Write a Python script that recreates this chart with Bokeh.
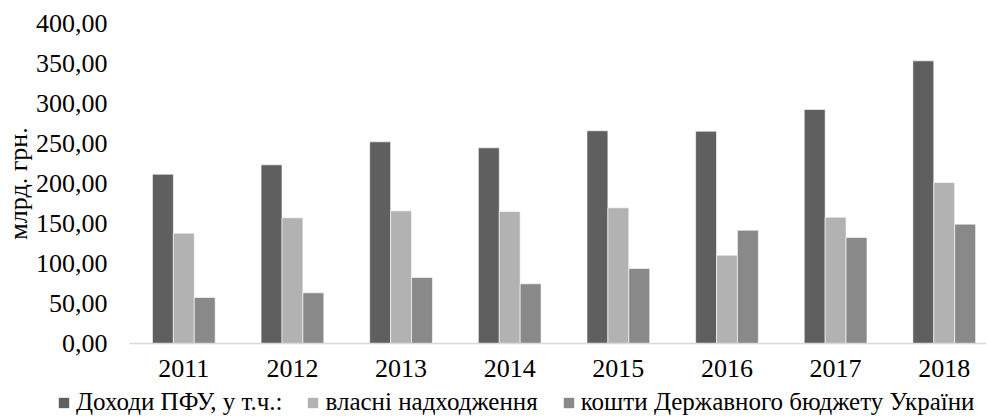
from bokeh.plotting import figure
from bokeh.layouts import column
from bokeh.models import (Range1d, Legend, LegendItem, ColumnDataSource,
                          FixedTicker, CustomJSTickFormatter)
from bokeh.transform import dodge
from bokeh.embed import file_html
from bokeh.resources import INLINE

years = ["2011", "2012", "2013", "2014", "2015", "2016", "2017", "2018"]
total = [211.6, 223.3, 252.1, 244.6, 265.9, 265.4, 292.5, 353.3]
own = [137.9, 157.1, 165.8, 165.0, 169.6, 110.4, 157.9, 201.3]
budget = [57.5, 63.3, 82.5, 74.6, 93.8, 141.6, 132.5, 149.2]
series_names = ["Доходи ПФУ, у т.ч.:", "власні надходження",
                "кошти Державного бюджету України"]
y_ticks = [0, 50, 100, 150, 200, 250, 300, 350, 400]

colors = ["#5f5f5f", "#b2b2b2", "#898989"]
FONT = "Liberation Serif"
FS = "26px"

idx = list(range(len(years)))
src = ColumnDataSource(dict(x=idx, total=total, own=own, budget=budget))

p = figure(frame_width=857, frame_height=320, output_backend="svg", toolbar_location=None,
           x_range=Range1d(-0.5, 7.389), y_range=Range1d(0, 400),
           min_border_left=122, min_border_top=23, min_border_right=0,
           min_border_bottom=50)
p.frame_align = False
p.outline_line_color = None
p.xgrid.visible = False
p.ygrid.visible = False

bw = 0.1925
for field, off, col in zip(["total", "own", "budget"], [-bw, 0, bw], colors):
    p.vbar(x=dodge("x", off, range=p.x_range), top=field, width=bw,
           source=src, fill_color=col, line_color="white", line_width=0.6)

# x axis
p.xaxis.ticker = FixedTicker(ticks=idx)
p.xaxis.major_label_overrides = {i: y for i, y in zip(idx, years)}
p.xaxis.axis_line_color = "#d9d9d9"
p.xaxis.axis_line_width = 1.5
p.xaxis.major_tick_line_color = None
p.xaxis.minor_tick_line_color = None
p.xaxis.major_tick_out = 0
p.xaxis.major_tick_in = 0
p.xaxis.major_label_standoff = 16
p.xaxis.major_label_text_font = FONT
p.xaxis.major_label_text_font_size = FS
p.xaxis.major_label_text_color = "black"

# y axis
p.yaxis.ticker = FixedTicker(ticks=y_ticks)
p.yaxis.formatter = CustomJSTickFormatter(code="return tick.toFixed(2).replace('.', ',');")
p.yaxis.axis_line_color = None
p.yaxis.major_tick_line_color = None
p.yaxis.minor_tick_line_color = None
p.yaxis.major_tick_out = 0
p.yaxis.major_tick_in = 0
p.yaxis.major_label_standoff = 22
p.yaxis.major_label_text_font = FONT
p.yaxis.major_label_text_font_size = FS
p.yaxis.major_label_text_color = "black"
p.yaxis.axis_label = "млрд. грн."
p.yaxis.axis_label_text_font = FONT
p.yaxis.axis_label_text_font_size = FS
p.yaxis.axis_label_text_font_style = "normal"
p.yaxis.axis_label_text_color = "black"
p.yaxis.axis_label_standoff = 0

# legend strip below the chart
lf = figure(width=979, height=23, output_backend="svg", toolbar_location=None,
            x_range=Range1d(0, 1), y_range=Range1d(0, 1), min_border=0)
lf.frame_align = False
lf.axis.visible = False
lf.grid.visible = False
lf.outline_line_color = None
leg_renderers = [lf.vbar(x=[5], top=[1], width=0.1, fill_color=c, line_color=None)
                 for c in colors]
legend = Legend(items=[LegendItem(label=n, renderers=[r])
                       for n, r in zip(series_names, leg_renderers)],
                orientation="horizontal", location=(57, 0),
                glyph_width=13, glyph_height=13, label_standoff=6, spacing=24,
                padding=0, margin=0, border_line_color=None,
                background_fill_alpha=0, label_height=20,
                label_text_font=FONT, label_text_font_size="25px",
                label_text_color="black")
lf.add_layout(legend, "center")

layout = column(p, lf, spacing=0)
open("out.html", "w").write(file_html(layout, INLINE))
